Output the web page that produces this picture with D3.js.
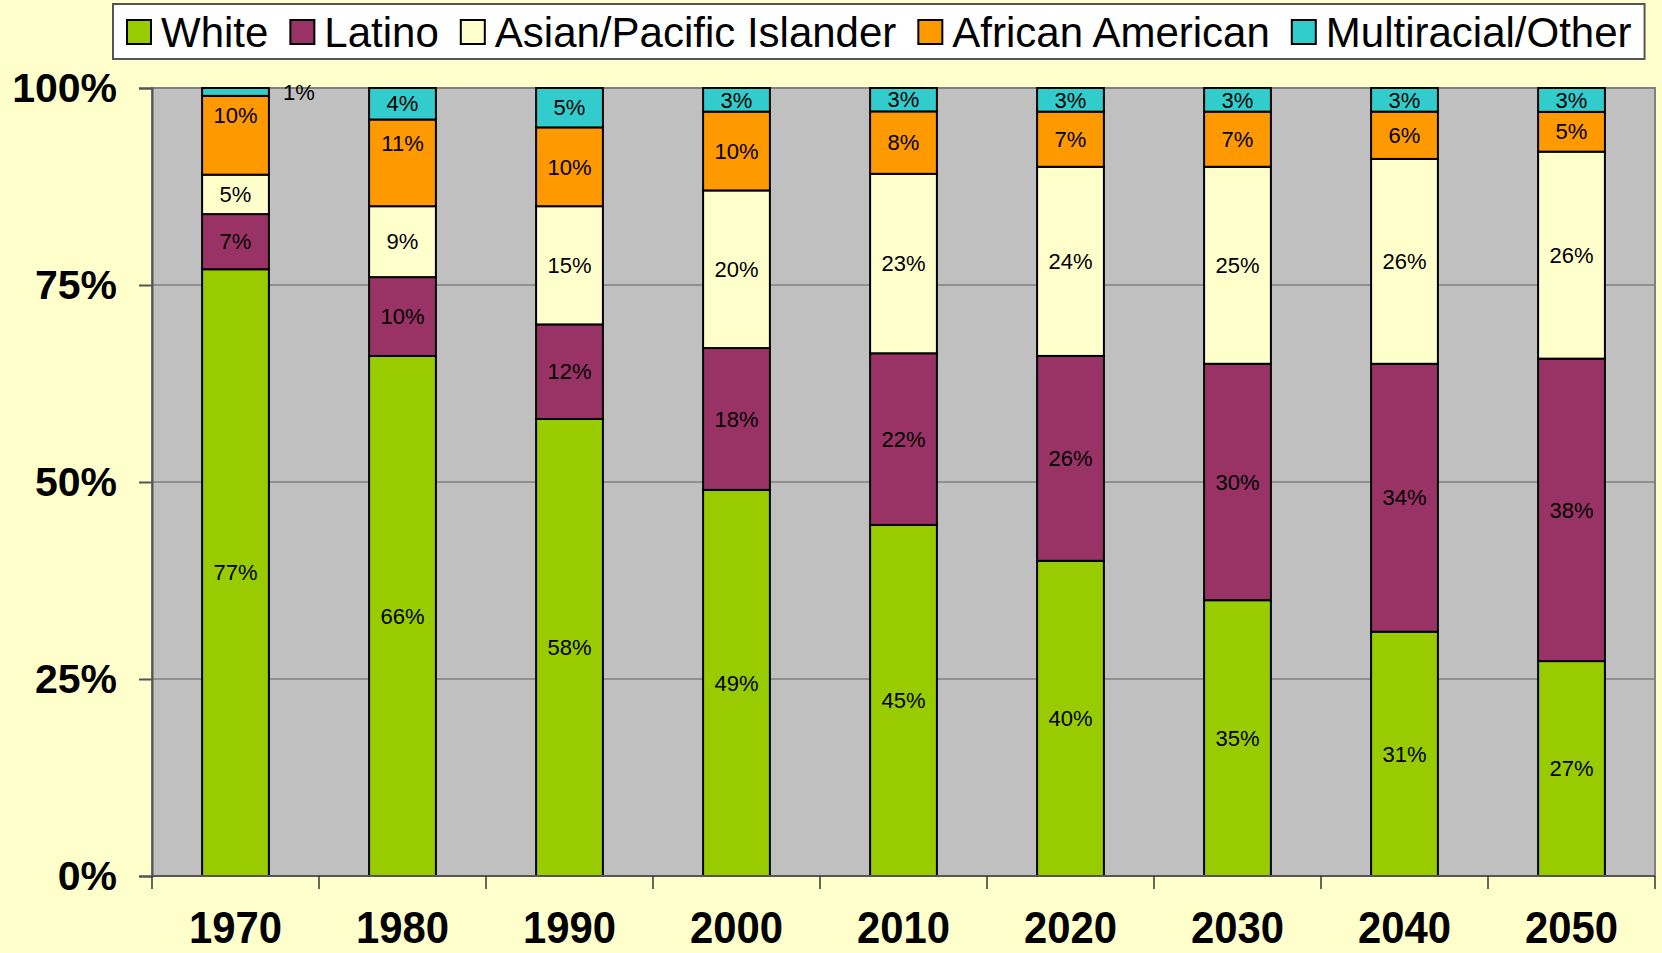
<!DOCTYPE html>
<html>
<head>
<meta charset="utf-8">
<script src="https://cdn.jsdelivr.net/npm/d3@7"></script>
<style>
  html, body { margin: 0; padding: 0; background: #FFFFCC; }
  svg { display: block; font-family: "Liberation Sans", Arial, sans-serif; }
</style>
</head>
<body>
<svg id="chart" width="1662" height="953"></svg>
<script>
// values (percent of population)
var years = ["1970", "1980", "1990", "2000", "2010", "2020", "2030", "2040", "2050"];
var groups = ["White", "Latino", "Asian/Pacific Islander", "African American", "Multiracial/Other"];
var white    = [77, 66, 58, 49, 45, 40, 35, 31, 27];
var latino   = [7, 10, 12, 18, 22, 26, 30, 34, 38];
var asian    = [5, 9, 15, 20, 23, 24, 25, 26, 26];
var african  = [10, 11, 10, 10, 8, 7, 7, 6, 5];
var multi    = [1, 4, 5, 3, 3, 3, 3, 3, 3];
var colors   = ["#99CC00", "#993366", "#FFFFCC", "#FF9900", "#33CCCC"];
var yTicks   = [0, 0.25, 0.5, 0.75, 1];

(function() {
  var plot = {left: 152, right: 1655, top: 88, bottom: 876};
  var svg = d3.select("#chart");

  // build rows for d3.stack
  var series = [white, latino, asian, african, multi];
  var rows = years.map(function(y, i) {
    var r = {year: y};
    groups.forEach(function(g, j) { r[g] = series[j][i]; });
    return r;
  });

  // 100% stacked, like the spreadsheet does it
  var stacked = d3.stack().keys(groups).offset(d3.stackOffsetExpand)(rows);

  var x = d3.scaleBand()
    .domain(years)
    .range([plot.left, plot.right])
    .paddingInner(0.6)
    .paddingOuter(0.3);

  var y = d3.scaleLinear().domain([0, 1]).range([plot.bottom, plot.top]);

  // plot background
  svg.append("rect")
    .attr("x", plot.left).attr("y", plot.top)
    .attr("width", plot.right - plot.left).attr("height", plot.bottom - plot.top)
    .attr("fill", "#C0C0C0")
    .attr("stroke", "#808080").attr("stroke-width", 2);

  // gridlines
  svg.append("g").selectAll("line")
    .data(yTicks.filter(function(t) { return t > 0 && t < 1; }))
    .join("line")
      .attr("x1", plot.left).attr("x2", plot.right)
      .attr("y1", function(d) { return y(d); }).attr("y2", function(d) { return y(d); })
      .attr("stroke", "#808080").attr("stroke-width", 1.5);

  // bars
  var layer = svg.append("g").selectAll("g")
    .data(stacked)
    .join("g")
      .attr("fill", function(d, i) { return colors[i]; });

  layer.selectAll("rect")
    .data(function(d) { return d; })
    .join("rect")
      .attr("x", function(d) { return x(d.data.year); })
      .attr("y", function(d) { return y(d[1]); })
      .attr("width", x.bandwidth())
      .attr("height", function(d) { return y(d[0]) - y(d[1]); })
      .attr("stroke", "#000")
      .attr("stroke-width", 2);

  // data labels
  var labels = [];
  stacked.forEach(function(s, j) {
    s.forEach(function(d, i) {
      var cx = x(d.data.year) + x.bandwidth() / 2;
      var cy = y((d[0] + d[1]) / 2);
      // the small 1970 slices were nudged by hand in the original
      if (j === 4 && i === 0) { cx = x(d.data.year) + x.bandwidth() + 30; cy = y(1) + 4; }
      if (j === 3 && (i === 0 || i === 1)) { cy -= 20; }
      labels.push({x: cx, y: cy, text: series[j][i] + "%"});
    });
  });

  svg.append("g").selectAll("text")
    .data(labels)
    .join("text")
      .attr("x", function(d) { return d.x; })
      .attr("y", function(d) { return d.y; })
      .attr("dy", "0.35em")
      .attr("text-anchor", "middle")
      .style("font-size", "22px")
      .attr("fill", "#000")
      .text(function(d) { return d.text; });

  // y axis
  var yAxis = svg.append("g")
    .attr("transform", "translate(" + plot.left + ",0)")
    .call(d3.axisLeft(y).tickValues(yTicks).tickFormat(d3.format(".0%")).tickSize(13).tickPadding(22));
  yAxis.select(".domain").attr("stroke", "#555").attr("stroke-width", 2);
  yAxis.selectAll(".tick line").attr("stroke", "#555").attr("stroke-width", 2);
  yAxis.selectAll(".tick text")
    .attr("fill", "#000")
    .style("font-size", "41px").style("font-weight", "bold")
    .style("font-family", "'Liberation Sans', Arial, sans-serif");

  // x axis: ticks between categories
  var bounds = d3.range(years.length + 1).map(function(i) { return plot.left + i * x.step(); });
  svg.append("line")
    .attr("x1", plot.left).attr("x2", plot.right)
    .attr("y1", plot.bottom).attr("y2", plot.bottom)
    .attr("stroke", "#555").attr("stroke-width", 2);
  svg.append("g").selectAll("line")
    .data(bounds)
    .join("line")
      .attr("x1", function(d) { return d; }).attr("x2", function(d) { return d; })
      .attr("y1", plot.bottom).attr("y2", plot.bottom + 13)
      .attr("stroke", "#333").attr("stroke-width", 1.5);

  svg.append("g").selectAll("text")
    .data(years)
    .join("text")
      .attr("x", function(d) { return x(d) + x.bandwidth() / 2; })
      .attr("y", 943)
      .attr("text-anchor", "middle")
      .attr("textLength", 93)
      .attr("lengthAdjust", "spacingAndGlyphs")
      .style("font-size", "44px").style("font-weight", "bold")
      .text(function(d) { return d; });

  // legend
  var legend = svg.append("g");
  var box = legend.append("rect")
    .attr("x", 113).attr("y", 4).attr("height", 55)
    .attr("fill", "#fff").attr("stroke", "#555").attr("stroke-width", 2);

  var lx = 127;
  groups.forEach(function(g, i) {
    legend.append("rect")
      .attr("x", lx).attr("y", 20).attr("width", 24).attr("height", 24)
      .attr("fill", colors[i]).attr("stroke", "#000").attr("stroke-width", 2);
    var t = legend.append("text")
      .attr("x", lx + 34).attr("y", 47)
      .style("font-size", "42px")
      .text(g);
    lx += 34 + t.node().getComputedTextLength() + 22;
  });
  box.attr("width", lx - 113 - 9);
})();
</script>
</body>
</html>
